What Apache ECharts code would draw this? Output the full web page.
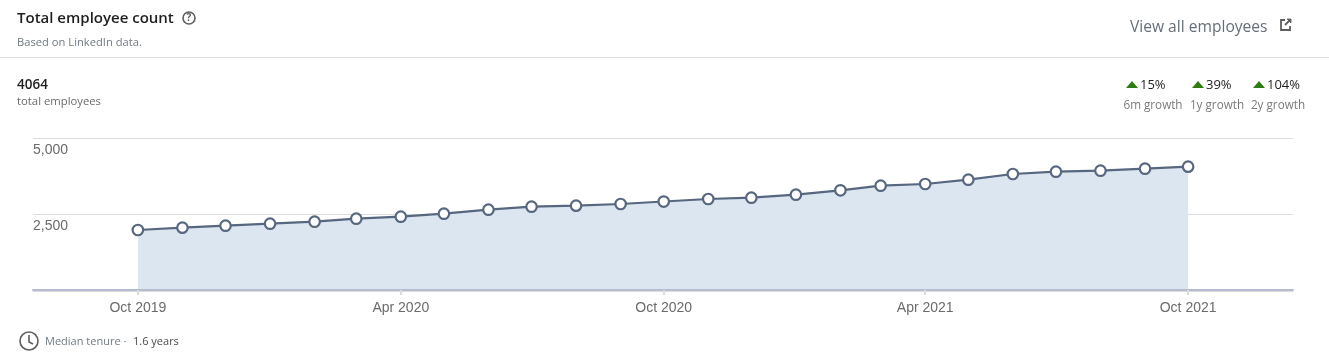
<!DOCTYPE html>
<html>
<head>
<meta charset="utf-8">
<style>html,body{margin:0;padding:0;background:#fff}#c{width:1329px;height:360px}</style>
<script src="https://cdn.jsdelivr.net/npm/echarts@6/dist/echarts.min.js"></script>
</head>
<body>
<div id="c"></div>
<script>
const months = ['2019-10-01','2019-11-01','2019-12-01','2020-01-01','2020-02-01','2020-03-01','2020-04-01','2020-05-01','2020-06-01','2020-07-01','2020-08-01','2020-09-01','2020-10-01','2020-11-01','2020-12-01','2021-01-01','2021-02-01','2021-03-01','2021-04-01','2021-05-01','2021-06-01','2021-07-01','2021-08-01','2021-09-01','2021-10-01'];
const employees = [1993,2069,2134,2199,2265,2363,2428,2526,2657,2755,2788,2843,2924,3007,3049,3147,3291,3441,3497,3637,3824,3899,3931,3997,4064];
const tickDates = ['2019-10-01','2020-04-01','2020-10-01','2021-04-01','2021-10-01'];
const tickLabels = ['Oct 2019','Apr 2020','Oct 2020','Apr 2021','Oct 2021'];
const growthValues = ['15%','39%','104%'];
const growthLabels = ['6m growth','1y growth','2y growth'];

const ts = s => Date.parse(s + 'T00:00:00Z');
const tickTimes = tickDates.map(ts);
const uiFont = '"Open Sans","Noto Sans",sans-serif';
const txt = (x, y, text, size, fill, weight, align) => ({
  type: 'text', x, y,
  style: {text, fontSize: size, fontFamily: uiFont, fill, fontWeight: weight || 400, textAlign: align || 'left', textVerticalAlign: 'middle'}
});
const dark = '#1f1f1f', green = '#2e7d10';
const triX = [1132, 1198, 1259], growthLabelX = [1153, 1217, 1278];

const graphic = [
  txt(17, 19, 'Total employee count', 15, dark, 600),
  txt(17, 42.5, 'Based on LinkedIn data.', 11.2, '#6f7b85'),
  {type:'circle', shape:{cx:189, cy:18, r:6}, style:{fill:'none', stroke:'#5e5e5e', lineWidth:1.6}},
  {type:'text', x:189, y:18, style:{text:'?', fontSize:10, fontWeight:700, fontFamily:uiFont, fill:'#5e5e5e', textAlign:'center', textVerticalAlign:'middle'}},
  txt(1130, 27.5, 'View all employees', 15.6, '#666f78', 500),
  {type:'polyline', shape:{points:[[1285,20],[1281,20],[1281,30],[1290,30],[1290,26]]}, style:{fill:'none', stroke:'#5e5e5e', lineWidth:1.8}},
  {type:'line', shape:{x1:1285,y1:25,x2:1290,y2:20}, style:{stroke:'#5e5e5e', lineWidth:1.8}},
  {type:'polygon', shape:{points:[[1287,19],[1291,19],[1291,23]]}, style:{fill:'#5e5e5e', stroke:'#5e5e5e', lineWidth:0.8}},
  {type:'line', shape:{x1:0,y1:57.5,x2:1329,y2:57.5}, style:{stroke:'#dcdcdc', lineWidth:1}},
  txt(17, 85, '4064', 13.5, dark, 600),
  txt(17, 101.5, 'total employees', 11.3, '#6b6b6b'),
  {type:'circle', shape:{cx:29, cy:341, r:9}, style:{fill:'none', stroke:'#5e5e5e', lineWidth:1.6}},
  {type:'polyline', shape:{points:[[29,335],[29,342],[33,344]]}, style:{fill:'none', stroke:'#5e5e5e', lineWidth:1.6}},
  txt(45, 342, 'Median tenure · ', 11, '#6f7b85'),
  txt(133, 342, '1.6 years', 11, '#4a4a4a')
];
growthValues.forEach((v, i) => {
  const tx = triX[i];
  graphic.push({type:'polygon', shape:{points:[[tx-6,88],[tx+6,88],[tx,81]]}, style:{fill:green}});
  graphic.push(txt(tx + 8, 85, v, 13, dark));
  graphic.push(txt(growthLabelX[i], 106, growthLabels[i], 11.7, '#7a7a7a', 400, 'center'));
});

const chart = echarts.init(document.getElementById('c'), null, {renderer:'canvas'});
chart.setOption({
  animation: false,
  backgroundColor: '#fff',
  grid: {left:33, right:36, top:138, bottom:69},
  xAxis: {
    type:'value',
    min: ts('2019-07-20'), max: ts('2021-12-13'),
    offset: -1,
    z: 5,
    axisLine: {lineStyle:{color:'#b6bccf', width:2}},
    axisTick: {show:true, length:5, customValues: tickTimes, lineStyle:{color:'#dcdcdc', width:2}},
    axisLabel: {
      customValues: tickTimes,
      formatter: v => tickLabels[tickTimes.indexOf(v)] || '',
      fontSize:14, color:'#6b6b6b', fontFamily:'"Liberation Sans",Arial,sans-serif', margin:11
    },
    splitLine: {show:false}
  },
  yAxis: {
    type:'value', min:0, max:5000, interval:2500,
    axisLine:{show:false}, axisTick:{show:false},
    axisLabel:{inside:true, showMinLabel:false, margin:0, verticalAlign:'top', padding:[5,0,0,0], fontSize:14, color:'#6b6b6b', fontFamily:'"Liberation Sans",Arial,sans-serif',
      formatter: v => v.toLocaleString('en-US')},
    splitLine:{lineStyle:{color:'#dcdcdc', width:1}}
  },
  series: [{
    type:'line',
    data: months.map((m, i) => [ts(m), employees[i]]),
    symbol:'circle', symbolSize:10.5, showSymbol:true,
    lineStyle:{color:'#56677f', width:2.2},
    itemStyle:{color:'#fff', borderColor:'#56677f', borderWidth:2.2},
    areaStyle:{color:'#dce6f1', opacity:1},
    z:3
  }],
  graphic
});
</script>
</body>
</html>
